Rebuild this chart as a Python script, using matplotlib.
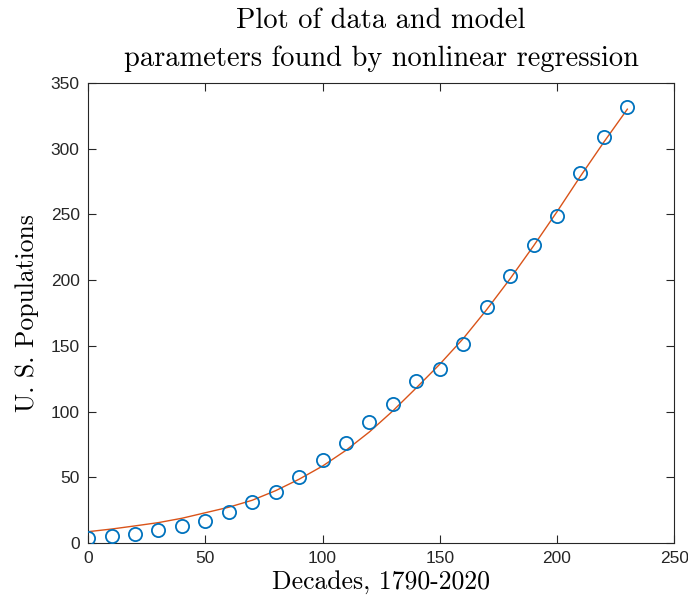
import matplotlib.pyplot as plt
import numpy as np

# census decades since 1790 and population in millions
decades = [0, 10, 20, 30, 40, 50, 60, 70, 80, 90, 100, 110,
           120, 130, 140, 150, 160, 170, 180, 190, 200, 210, 220, 230]
population = [3.9, 5.3, 7.2, 9.6, 12.9, 17.1, 23.2, 31.4, 38.6, 50.2, 63.0, 76.2,
              92.2, 106.0, 123.2, 132.2, 151.3, 179.3, 203.2, 226.5, 248.7, 281.4, 308.7, 331.4]

# fitted model evaluated at the same decades
model_x = [0, 10, 20, 30, 40, 50, 60, 70, 80, 90, 100, 110,
           120, 130, 140, 150, 160, 170, 180, 190, 200, 210, 220, 230]
model_y = [8.6, 10.6, 13.0, 15.5, 18.8, 23.0, 27.2, 32.5, 39.8, 48.5, 58.5, 70.5,
           84.5, 100.5, 118.0, 136.0, 155.5, 177.5, 201.0, 226.0, 252.0, 279.0, 305.0, 330.0]

serif = "cmr10"
sans = "Liberation Sans"

fig = plt.figure(figsize=(6.88, 6.05), dpi=100)
ax = fig.add_axes([0.128, 0.1025, 0.852, 0.7605])

ax.plot(model_x, model_y, color="#D95319", lw=1.0, zorder=2)
ax.plot(decades, population, "o", ms=9.5, mfc="none", mec="#0072BD", mew=1.3, zorder=3)

ax.set_xlim(0, 250)
ax.set_ylim(0, 350)
ax.set_xticks(np.arange(0, 251, 50))
ax.set_yticks(np.arange(0, 351, 50))
ax.tick_params(direction="in", length=6, width=0.8, top=True, right=True,
               labelsize=12.5, colors="#262626", pad=6)
for lab in ax.get_xticklabels() + ax.get_yticklabels():
    lab.set_fontfamily(sans)
for s in ax.spines.values():
    s.set_linewidth(0.8)
    s.set_color("#262626")

ax.set_title("Plot of data and model\nparameters found by nonlinear regression",
             fontfamily=serif, fontsize=20.5, pad=12, linespacing=1.55)
ax.set_xlabel("Decades, 1790-2020", fontfamily=serif, fontsize=18.5, labelpad=3)
ax.set_ylabel("U. S. Populations", fontfamily=serif, fontsize=18.5, labelpad=8)

fig.savefig("out.png", dpi=100)
